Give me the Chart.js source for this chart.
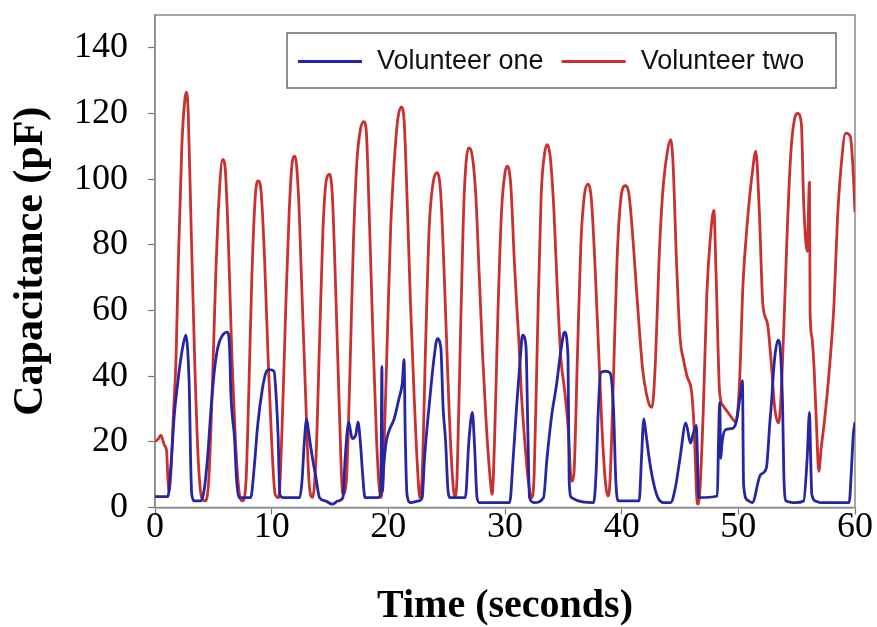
<!DOCTYPE html>
<html>
<head>
<meta charset="utf-8">
<script src="https://cdn.jsdelivr.net/npm/chart.js@4.4.1/dist/chart.umd.min.js"></script>
<style>
html,body{margin:0;padding:0;background:#fff;}
#wrap{width:877px;height:627px;position:relative;}
</style>
</head>
<body>
<div id="wrap"><canvas id="c" width="877" height="627"></canvas></div>
<script>
// ---- data ----
const seriesNames = ['Volunteer one', 'Volunteer two'];
const xTicks = [0, 10, 20, 30, 40, 50, 60];
const yTicks = [0, 20, 40, 60, 80, 100, 120, 140];

const timeOne = [0,1.1,1.35,1.65,1.95,2.2,2.5,2.65,2.8,2.95,3.05,3.15,3.4,3.9,4.2,4.5,4.8,5.1,5.4,5.8,6.2,6.4,6.5,6.65,6.8,7.0,7.2,8.2,8.5,8.8,9.2,9.5,9.8,10.2,10.4,10.55,10.7,11.0,12.4,12.6,12.8,13.0,13.2,13.5,13.8,14.1,14.6,15.2,15.7,16.1,16.3,16.5,16.6,16.9,17.2,17.4,17.6,17.8,18.0,19.1,19.35,19.45,19.5,19.6,19.8,20.1,20.5,20.9,21.2,21.35,21.45,21.6,21.9,22.6,22.9,23.1,23.5,23.9,24.2,24.5,24.7,24.9,25.1,25.3,26.6,26.9,27.2,27.4,27.6,27.8,30.4,30.7,31.0,31.3,31.5,31.8,31.95,32.1,32.5,33.3,33.6,34.0,34.4,34.8,35.1,35.4,35.5,35.7,37.6,37.8,38.0,38.2,38.6,39.0,39.3,39.5,39.7,41.5,41.7,41.9,42.1,42.4,42.7,43.1,43.6,44.2,44.6,45.0,45.5,45.9,46.1,46.4,46.5,46.6,48.2,48.3,48.4,48.5,48.6,48.9,49.4,49.8,50.2,50.35,50.45,50.8,51.2,51.9,52.4,52.7,52.8,53.1,53.4,53.6,53.8,53.9,54.1,54.9,55.6,55.9,56.1,56.2,56.3,56.6,57.0,59.5,59.7,59.85,60];
const capOne = [3.3,3.3,12,28,38,45,51,52.5,48,35,15,4,2,2,5,15,30,42,49,52.5,53.4,48,35,27,22,8,3,3,12,25,36,41,42,41.5,33,22,4,3,3,8,20,27,22,15,9,3,2,1,2,3,15,24,26,21,22,26,20,10,3,3,4,43,5,12,19.6,23.7,27,33,38,45,22,4,1.5,2,3,15,31,45,51.4,48.6,30,20.7,6,3,3,20,29,18,3,1.5,1.5,15,31,45,52.5,49,25,3,1.5,3,15,28,37,48,53.4,46,8,3,1.5,10,30,41,41.5,41,30,8,2,2,15,27,22,14,8,3,1.5,1.5,6,15,25.8,19.6,22,25,15,3,3.5,20,32,15,19.6,23.7,24,25.8,35,38.6,7,2.2,1.5,10,12,25.8,30,45,51,48,30,10,2,1.5,2,15,29,15,4,2,1.5,1.5,12,22,26];

const timeTwo = [0,0.3,0.5,0.8,1.0,1.1,1.2,1.35,1.6,1.8,2.0,2.3,2.55,2.7,2.85,3.1,3.4,3.7,4.0,4.3,4.6,4.9,5.2,5.5,5.8,6.0,6.3,6.6,6.9,7.2,7.5,7.8,8.0,8.3,8.6,8.85,9.1,9.4,9.7,10.0,10.3,10.6,10.9,11.2,11.5,11.8,12.0,12.3,12.6,12.9,13.2,13.5,13.8,14.1,14.4,14.7,14.95,15.2,15.5,15.8,16.1,16.4,16.7,17.0,17.3,17.6,17.9,18.1,18.4,18.7,19.0,19.25,19.4,19.6,19.9,20.2,20.5,20.8,21.1,21.35,21.6,21.9,22.2,22.5,22.7,22.9,23.2,23.5,23.8,24.2,24.5,24.8,25.1,25.4,25.7,25.9,26.2,26.5,26.9,27.2,27.5,27.8,28.1,28.4,28.7,28.9,29.1,29.4,29.7,30.0,30.2,30.5,30.8,31.0,31.2,31.4,31.7,32.0,32.3,32.5,32.8,33.1,33.4,33.65,33.9,34.2,34.5,34.8,35.1,35.4,35.7,35.9,36.2,36.5,36.8,37.1,37.4,37.7,38.0,38.3,38.6,38.8,39.0,39.3,39.6,39.9,40.3,40.6,40.9,41.2,41.5,41.8,42.1,42.4,42.6,42.9,43.2,43.5,43.9,44.2,44.4,44.7,45.0,45.3,45.6,46.0,46.2,46.5,46.7,47.0,47.3,47.6,47.9,48.1,48.4,48.7,49.1,49.5,49.8,50.1,50.4,50.8,51.2,51.5,51.8,52.1,52.5,52.8,53.1,53.4,53.6,53.9,54.2,54.5,54.8,55.1,55.4,55.6,55.9,56.1,56.15,56.3,56.5,56.7,56.9,57.1,57.4,57.8,58.2,58.5,58.8,59.2,59.6,59.8,60];
const capTwo = [20,21,22,19,17,9,5,10,30,45,75,110,124,126.5,120,85,45,15,3,2,8,35,70,95,106,104,80,45,20,5,2,8,30,70,95,99.5,96,75,45,20,4,3,25,60,90,106,107,95,65,35,8,3,15,50,85,100,101.5,95,65,30,4,8,40,80,105,115,117.5,115,85,50,20,5,3,15,50,85,105,118,122,118,95,62,35,12,3,10,50,85,98,102,95,70,40,15,3,10,55,95,109.5,107,95,70,45,25,10,4,20,60,90,102,104,98,75,62,50,35,20,8,3,10,55,95,108,110.5,106,90,65,45,36,25,8,10,45,80,95,98.5,94,75,50,25,8,3.5,8,40,75,93,98,96,85,70,55,42,35,31,30.5,45,75,95,108,112,105,75,52,45,40,35,25,1,5,30,65,82,90.5,70,35,31,29,27,26,38,68,88,102,108.5,90,62,56,45,31,25.8,30,55,85,108,118,120,117,93,78,99,60,52,42,25,11,18,27,42,62,88,103.5,114,113,105,90];

const colorOne = '#2626a4';
const colorTwo = '#c93030';

// ---- plugins ----
const framePlugin = {
  id: 'frame',
  beforeDatasetsDraw(chart) {
    const {ctx, chartArea: a} = chart;
    ctx.save();
    ctx.strokeStyle = '#8a8a8a';
    ctx.lineWidth = 1.5;
    ctx.strokeRect(a.left, a.top, a.right - a.left, a.bottom - a.top);
    ctx.restore();
  }
};
const legendBox = {
  id: 'legendBox',
  afterDraw(chart) {
    const ctx = chart.ctx;
    const ds = chart.data.datasets;
    const box = {x: 287, y: 33, w: 549, h: 55};
    ctx.save();
    ctx.fillStyle = '#fff';
    ctx.fillRect(box.x, box.y, box.w, box.h);
    ctx.strokeStyle = '#6a6a6a';
    ctx.lineWidth = 1.5;
    ctx.strokeRect(box.x, box.y, box.w, box.h);
    ctx.font = '27px "Liberation Sans", Arial, sans-serif';
    ctx.textBaseline = 'middle';
    ctx.fillStyle = '#111';
    const cy = box.y + box.h / 2 + 1;
    let x = box.x + 11;
    ds.forEach((d) => {
      ctx.strokeStyle = d.borderColor;
      ctx.lineWidth = 2.8;
      ctx.beginPath();
      ctx.moveTo(x, cy);
      ctx.lineTo(x + 64, cy);
      ctx.stroke();
      x += 79;
      ctx.fillText(d.label, x, cy);
      x += ctx.measureText(d.label).width + 18;
    });
    ctx.restore();
  }
};

const serif = '"Liberation Serif", "Times New Roman", serif';

new Chart(document.getElementById('c'), {
  type: 'line',
  data: {
    datasets: [
      {label: seriesNames[0], data: timeOne.map((t, i) => ({x: t, y: capOne[i]})), borderColor: colorOne, backgroundColor: colorOne, borderWidth: 2.8, pointRadius: 0, cubicInterpolationMode: 'monotone', fill: false},
      {label: seriesNames[1], data: timeTwo.map((t, i) => ({x: t, y: capTwo[i]})), borderColor: colorTwo, backgroundColor: colorTwo, borderWidth: 2.8, pointRadius: 0, cubicInterpolationMode: 'monotone', fill: false}
    ]
  },
  options: {
    responsive: false,
    animation: false,
    devicePixelRatio: 1,
    layout: {padding: {top: 15, right: 22, left: 0, bottom: 0}},
    plugins: {legend: {display: false}, tooltip: {enabled: false}},
    scales: {
      x: {
        type: 'linear', min: 0, max: 60,
        afterBuildTicks: (s) => { s.ticks = xTicks.map(v => ({value: v})); },
        afterFit: (s) => { s.height = 119.5; s.paddingLeft = 0; s.paddingRight = 0; },
        grid: {display: true, drawOnChartArea: false, tickLength: 7, color: '#777', tickWidth: 1.2},
        border: {display: true, color: '#8a8a8a', width: 1.5},
        ticks: {color: '#000', font: {family: serif, size: 36, lineHeight: 0.9}, padding: -3, maxRotation: 0},
        title: {display: true, text: 'Time (seconds)', color: '#000', font: {family: serif, size: 40, weight: 'bold', lineHeight: 1}, padding: {top: 0, bottom: 0}}
      },
      y: {
        type: 'linear', min: 0, max: 150,
        afterBuildTicks: (s) => { s.ticks = yTicks.map(v => ({value: v})); },
        afterFit: (s) => { s.width = 155; s.paddingTop = 0; s.paddingBottom = 0; },
        grid: {display: true, drawOnChartArea: false, tickLength: 7, color: '#777', tickWidth: 1.2},
        border: {display: true, color: '#8a8a8a', width: 1.5},
        ticks: {color: '#000', font: {family: serif, size: 36, lineHeight: 1}, padding: 20},
        title: {display: true, text: 'Capacitance (pF)', color: '#000', font: {family: serif, size: 42, weight: 'bold', lineHeight: 1}, padding: {top: 10, bottom: 0}}
      }
    }
  },
  plugins: [framePlugin, legendBox]
});
</script>
</body>
</html>
